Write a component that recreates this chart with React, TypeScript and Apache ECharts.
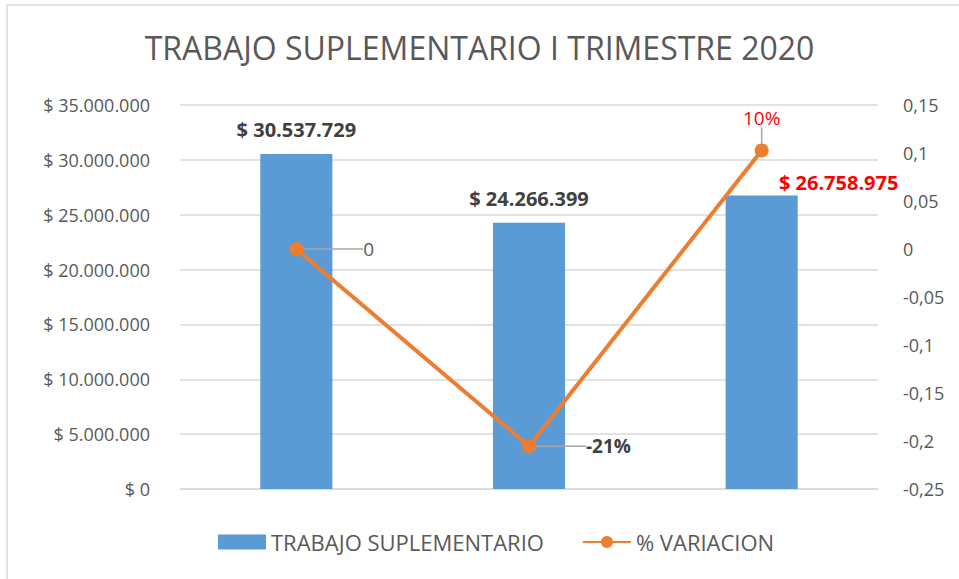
import React, { useEffect, useRef } from "react";
import * as echarts from "echarts";

const categories = ["T1", "T2", "T3"];
const trabajoValues = [30537729, 24266399, 26758975];
const variacionValues = [0, -0.2054, 0.1027];
const variacionLabels = ["0", "-21%", "10%"];
const leftTicks = { min: 0, max: 35000000, interval: 5000000 };
const rightTicks = { min: -0.25, max: 0.15, interval: 0.05 };

const FONT = "'Open Sans', 'Noto Sans', sans-serif";
const GRAY = "#595959";

function fmtMoney(v: number): string {
  const s = Math.round(v).toString().replace(/\B(?=(\d{3})+(?!\d))/g, ".");
  return "$ " + s;
}

export default function App() {
  const ref = useRef<HTMLDivElement>(null);
  useEffect(() => {
    if (!ref.current) return;
    const chart = echarts.init(ref.current, null, { renderer: "svg" });
    chart.setOption({
      animation: false,
      backgroundColor: "#ffffff",
      textStyle: { fontFamily: FONT },
      title: {
        text: "TRABAJO SUPLEMENTARIO I TRIMESTRE 2020",
        left: "center",
        top: 26,
        textStyle: { fontFamily: FONT, fontSize: 32, fontWeight: "normal", color: GRAY },
      },
      graphic: [
        {
          type: "rect",
          shape: { x: 7, y: 5, width: 1000, height: 1000 },
          style: { fill: "none", stroke: "#d9d9d9", lineWidth: 1.5 },
          silent: true,
        },
      ],
      legend: {
        bottom: 21,
        left: 213,
        itemGap: 38,
        itemWidth: 48,
        itemHeight: 15,
        textStyle: { fontFamily: FONT, fontSize: 22, color: GRAY },
        data: [
          { name: "TRABAJO SUPLEMENTARIO", icon: "rect" },
          { name: "% VARIACION" },
        ],
      },
      grid: { left: 180, right: 81, top: 105, bottom: 90 },
      xAxis: {
        type: "category",
        data: categories,
        axisLine: { show: true, lineStyle: { color: "#d9d9d9", width: 1.5 } },
        axisTick: { show: false },
        axisLabel: { show: false },
      },
      yAxis: [
        {
          type: "value",
          min: leftTicks.min,
          max: leftTicks.max,
          interval: leftTicks.interval,
          axisLine: { show: false },
          axisTick: { show: false },
          splitLine: { lineStyle: { color: "#d9d9d9", width: 1.5 } },
          axisLabel: {
            fontFamily: FONT,
            fontSize: 18,
            color: GRAY,
            margin: 30,
            formatter: (v: number) => fmtMoney(v),
          },
        },
        {
          type: "value",
          min: rightTicks.min,
          max: rightTicks.max,
          interval: rightTicks.interval,
          axisLine: { show: false },
          axisTick: { show: false },
          splitLine: { show: false },
          axisLabel: {
            fontFamily: FONT,
            fontSize: 18,
            color: GRAY,
            margin: 25,
            formatter: (v: number) => String(Math.round(v * 100) / 100).replace(".", ","),
          },
        },
      ],
      series: [
        {
          name: "TRABAJO SUPLEMENTARIO",
          type: "bar",
          yAxisIndex: 0,
          barWidth: "31%",
          itemStyle: { color: "#5B9BD5" },
          data: trabajoValues.map((v, i) => ({
            value: v,
            label:
              i === 2
                ? { color: "#ff0000", offset: [77, 0], distance: 3 }
                : { color: "#404040", distance: 14 },
          })),
          label: {
            show: true,
            position: "top",
            fontFamily: FONT,
            fontSize: 20,
            fontWeight: "bold",
            formatter: (p: any) => fmtMoney(p.value),
          },
        },
        {
          name: "% VARIACION",
          type: "line",
          yAxisIndex: 1,
          symbol: "circle",
          symbolSize: 14,
          lineStyle: { color: "#ED7D31", width: 4 },
          itemStyle: { color: "#ED7D31" },
          data: variacionValues.map((v, i) => ({
            value: v,
            label:
              i === 0
                ? { position: "right", color: GRAY, fontWeight: "normal", distance: 0 }
                : i === 1
                ? { position: "right", color: "#404040", fontWeight: "bold", distance: 0 }
                : { position: "top", color: "#ff0000", fontWeight: "normal", distance: 16 },
          })),
          label: {
            show: true,
            fontFamily: FONT,
            fontSize: 19,
            formatter: (p: any) => variacionLabels[p.dataIndex],
          },
          labelLine: { show: true, lineStyle: { color: "#a6a6a6", width: 1.5 } },
          labelLayout: (p: any) => {
            if (p.dataIndex === 0) return { dx: 60 };
            if (p.dataIndex === 1) return { dx: 50 };
            return {};
          },
        },
      ],
    });
    return () => chart.dispose();
  }, []);
  return (
    <div
      ref={ref}
      style={{ position: "fixed", left: 0, top: 0, width: 959, height: 579 }}
    />
  );
}
